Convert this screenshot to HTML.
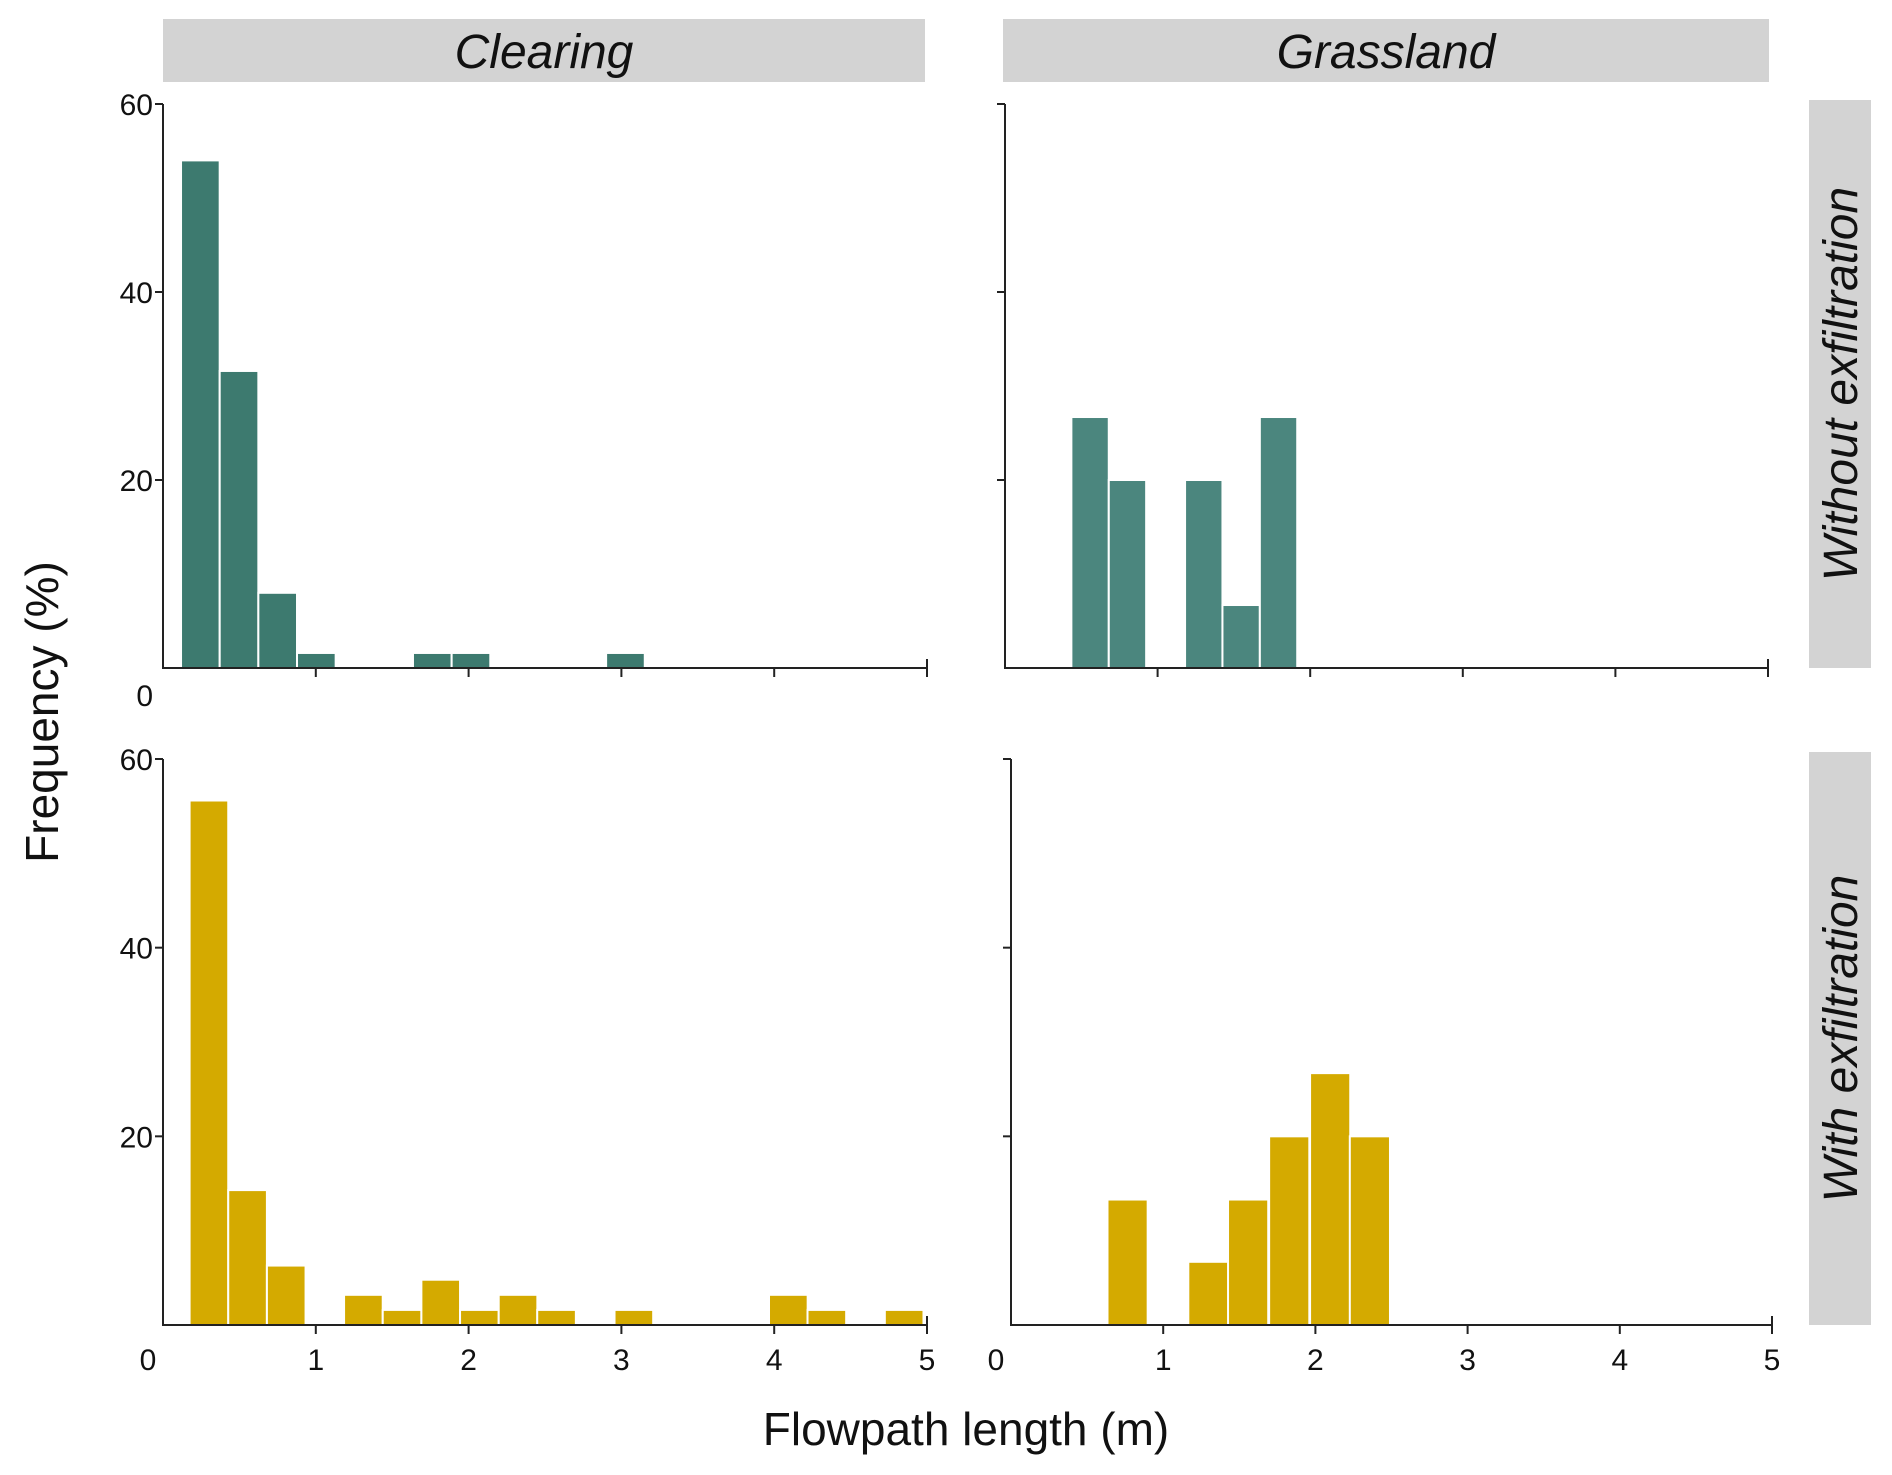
<!DOCTYPE html>
<html><head><meta charset="utf-8"><style>
html,body{margin:0;padding:0;background:#fff;}
svg{display:block;font-family:"Liberation Sans",sans-serif;}
</style></head><body>
<svg id="chart" width="1892" height="1475" viewBox="0 0 1892 1475" xmlns="http://www.w3.org/2000/svg"></svg>
<script>
// Data (bin left edges in m, frequencies in %)
const binWidthTL = 0.253;
const binsTL = [0.118, 0.371, 0.624, 0.877, 1.636, 1.889, 2.900];
const freqTL = [54, 31.6, 8, 1.6, 1.6, 1.6, 1.6];
const binWidthTR = 0.245;
const binsTR = [0.435, 0.68, 1.18, 1.425, 1.67];
const freqTR = [26.7, 20, 20, 6.7, 26.7];
const binWidthBL = 0.253;
const binsBL = [0.174, 0.427, 0.680, 1.185, 1.438, 1.691, 1.944, 2.197, 2.449, 2.955, 3.966, 4.218, 4.724];
const freqBL = [55.6, 14.3, 6.3, 3.2, 1.6, 4.8, 1.6, 3.2, 1.6, 1.6, 3.2, 1.6, 1.6];
const binWidthBR = 0.264;
const binsBR = [0.634, 1.165, 1.426, 1.696, 1.965, 2.226];
const freqBR = [13.3, 6.7, 13.3, 20, 26.7, 20];
const xTicks = [0, 1, 2, 3, 4, 5];
const yTicks = [0, 20, 40, 60];
const colTitles = ["Clearing", "Grassland"];
const rowTitles = ["Without exfiltration", "With  exfiltration"];

const svg = document.getElementById('chart');
const NS = 'http://www.w3.org/2000/svg';
function mk(tag, attrs, parent){const e=document.createElementNS(NS,tag);for(const k in attrs)e.setAttribute(k,attrs[k]);(parent||svg).appendChild(e);return e;}

const panels = [
 {name:'clearing-without', x0:163, x5:927, y0:668, y60:104, bins:binsTL, freq:freqTL, w:binWidthTL, color:'#3d7a6f', ylab:true, xlab:false},
 {name:'grassland-without', x0:1005, x5:1768, y0:668, y60:104, bins:binsTR, freq:freqTR, w:binWidthTR, color:'#4b867e', ylab:false, xlab:false},
 {name:'clearing-with', x0:163, x5:927, y0:1325, y60:759, bins:binsBL, freq:freqBL, w:binWidthBL, color:'#d4aa00', ylab:true, xlab:true},
 {name:'grassland-with', x0:1011, x5:1772, y0:1325, y60:759, bins:binsBR, freq:freqBR, w:binWidthBR, color:'#d4aa00', ylab:false, xlab:true}
];

panels.forEach(p=>{
  const g = mk('g',{});
  
  
  const xs = v => p.x0 + (p.x5-p.x0)*v/5;
  const ys = v => p.y0 - (p.y0-p.y60)*v/60;
  p.bins.forEach((b,i)=>{
    const r = mk('rect',{x:xs(b), y:ys(p.freq[i]), width:xs(b+p.w)-xs(b), height:p.y0-ys(p.freq[i]), fill:p.color, stroke:'#fff', 'stroke-width':2}, g);
    
    
  });
  const ax = mk('path',{d:`M${p.x0},${p.y60}V${p.y0}H${p.x5}`, fill:'none', stroke:'#222', 'stroke-width':2}, g);
  
  
  yTicks.forEach(t=>{
    if(t>0) mk('line',{x1:p.x0-8,x2:p.x0,y1:ys(t),y2:ys(t),stroke:'#222','stroke-width':2},g);
    if(p.ylab){
      if(t===0 && p.xlab) return;
      const ty = t===0 ? p.y0+38 : ys(t)+11;
      const tx = mk('text',{x:p.x0-10, y:ty, 'text-anchor':'end', 'font-size':30, fill:'#111'}, g);
      tx.textContent = t;
      
      
    }
  });
  xTicks.forEach(t=>{
    if(t===0) return;
    mk('line',{x1:xs(t),x2:xs(t),y1:p.y0,y2:p.y0+9,stroke:'#222','stroke-width':2},g);
    if(t===5) mk('line',{x1:xs(t),x2:xs(t),y1:p.y0-9,y2:p.y0,stroke:'#222','stroke-width':2},g);
  });
  if(p.xlab){
    xTicks.forEach(t=>{
      const tx = mk('text',{x:t===0?xs(t)-15:xs(t), y:p.y0+45, 'text-anchor':'middle', 'font-size':30, fill:'#111'}, g);
      tx.textContent = t;
      
      
    });
  }
});

[[163,925],[1003,1769]].forEach((c,i)=>{
  const r = mk('rect',{x:c[0],y:19,width:c[1]-c[0],height:63,fill:'#d3d3d3'});
  
  
  const t = mk('text',{x:(c[0]+c[1])/2,y:68,'text-anchor':'middle','font-size':48,'font-style':'italic',fill:'#111'});
  t.textContent = colTitles[i];
  
  
});
[[100,668],[752,1325]].forEach((r0,i)=>{
  const r = mk('rect',{x:1809,y:r0[0],width:62,height:r0[1]-r0[0],fill:'#d3d3d3'});
  
  
  const cy=(r0[0]+r0[1])/2;
  const t = mk('text',{x:1857,y:cy,'text-anchor':'middle','font-size':48,'font-style':'italic',fill:'#111',transform:`rotate(-90 1857 ${cy})`});
  t.textContent = rowTitles[i];
  
  
});
const yt = mk('text',{x:58,y:712,'text-anchor':'middle','font-size':46,fill:'#111',transform:'rotate(-90 58 712)'});
yt.textContent='Frequency (%)';


const xt = mk('text',{x:966,y:1445,'text-anchor':'middle','font-size':46,fill:'#111'});
xt.textContent='Flowpath length (m)';


</script>
</body></html>
